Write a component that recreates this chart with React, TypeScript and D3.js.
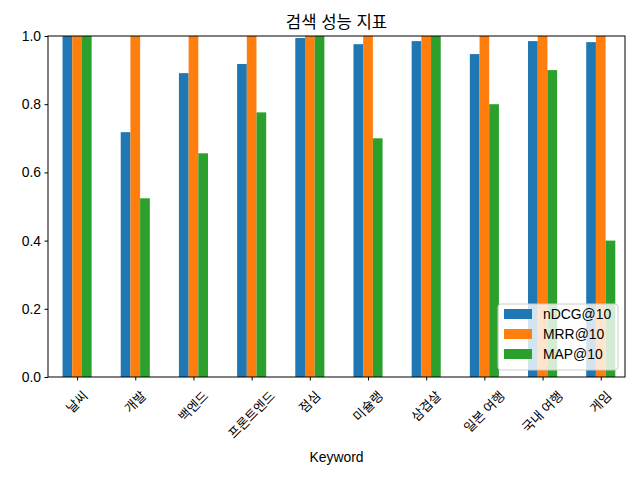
import React, { useEffect, useRef } from 'react';
import * as d3 from 'd3';

const keywords = ['날씨', '개발', '백엔드', '프론트엔드', '점심', '미슐랭', '삼겹살', '일본 여행', '국내 여행', '게임'];
const ndcg = [1.0, 0.718, 0.891, 0.918, 0.994, 0.976, 0.985, 0.947, 0.985, 0.982];
const mrr = [1.0, 1.0, 1.0, 1.0, 1.0, 1.0, 1.0, 1.0, 1.0, 1.0];
const map10 = [1.0, 0.524, 0.656, 0.776, 1.0, 0.7, 1.0, 0.8, 0.9, 0.4];
const seriesNames = ['nDCG@10', 'MRR@10', 'MAP@10'];
const yTicks = [0, 0.2, 0.4, 0.6, 0.8, 1.0];

const App: React.FC = () => {
  const svgRef = useRef<SVGSVGElement>(null);

  useEffect(() => {
    if (!svgRef.current) return;
    document.body.style.margin = '0';
    const svg = d3.select(svgRef.current);
    svg.selectAll('*').remove();

    const width = 640;
    const height = 480;
    const margin = { top: 36, right: 15, bottom: 103, left: 48 };
    const innerW = width - margin.left - margin.right;
    const innerH = height - margin.top - margin.bottom;
    const font = '"Liberation Sans", "Noto Sans CJK KR", sans-serif';
    const colors = ['#1f77b4', '#ff7f0e', '#2ca02c'];
    const series = [ndcg, mrr, map10];
    const barW = 0.5 / 3;

    svg.append('rect').attr('width', width).attr('height', height).attr('fill', '#fff');

    // pandas-style limits: ticks at group centres
    const x = d3.scaleLinear().domain([-0.5, keywords.length - 1 + 0.25 + barW]).range([0, innerW]);
    const y = d3.scaleLinear().domain([0, 1]).range([innerH, 0]);

    const g = svg.append('g').attr('transform', `translate(${margin.left},${margin.top})`);
    const plot = g.append('g');

    series.forEach((vals, s) => {
      plot.selectAll(`.bar${s}`)
        .data(vals)
        .enter()
        .append('rect')
        .attr('x', (_, i) => x(i - 0.25 + s * barW))
        .attr('width', x(barW) - x(0))
        .attr('y', d => y(d))
        .attr('height', d => innerH - y(d))
        .attr('fill', colors[s]);
    });

    // frame
    g.append('rect')
      .attr('width', innerW).attr('height', innerH)
      .attr('fill', 'none').attr('stroke', '#000').attr('stroke-width', 1);

    // y axis
    const yAxis = g.append('g')
      .call(d3.axisLeft(y).tickValues(yTicks).tickFormat(d3.format('.1f')).tickSize(3.5).tickPadding(3.5));
    yAxis.select('.domain').remove();
    yAxis.selectAll('text').style('font-size', '13.9px').style('font-family', font).attr('fill', '#000');

    // x axis
    const xAxis = g.append('g')
      .attr('transform', `translate(0,${innerH})`)
      .call(d3.axisBottom(x).tickValues(d3.range(keywords.length)).tickFormat(() => '').tickSize(3.5));
    xAxis.select('.domain').remove();

    keywords.forEach((k, i) => {
      const t = g.append('text')
        .attr('text-anchor', 'middle')
        .attr('dominant-baseline', 'central')
        .style('font-size', '13px')
        .style('font-family', font)
        .attr('fill', '#000')
        .text(k);
      const w = (t.node() as SVGTextElement).getComputedTextLength();
      const cy = innerH + 11 + (w + 16) / (2 * Math.SQRT2);
      t.attr('transform', `translate(${x(i)},${cy}) rotate(-45)`);
    });

    // x label
    svg.append('text')
      .attr('x', margin.left + innerW / 2)
      .attr('y', 462)
      .attr('text-anchor', 'middle')
      .style('font-size', '13.9px')
      .style('font-family', font)
      .attr('fill', '#000')
      .text('Keyword');

    // title
    svg.append('text')
      .attr('x', margin.left + innerW / 2)
      .attr('y', 28)
      .attr('text-anchor', 'middle')
      .style('font-size', '16.7px')
      .style('font-family', font)
      .attr('fill', '#000')
      .text('검색 성능 지표');

    // legend
    const lg = g.append('g').attr('transform', `translate(${innerW - 127},${innerH - 73})`);
    lg.append('rect')
      .attr('width', 120).attr('height', 66).attr('rx', 3)
      .attr('fill', '#fff').attr('fill-opacity', 0.8)
      .attr('stroke', '#ccc').attr('stroke-width', 1);
    seriesNames.forEach((name, i) => {
      const row = lg.append('g').attr('transform', `translate(6,${10 + i * 20})`);
      row.append('rect').attr('width', 28).attr('height', 10).attr('y', -5).attr('fill', colors[i]);
      row.append('text')
        .attr('x', 39)
        .attr('dominant-baseline', 'central')
        .style('font-size', '13.9px')
        .style('font-family', font)
        .attr('fill', '#000')
        .text(name);
    });
  }, []);

  return <svg ref={svgRef} width={640} height={480} style={{ display: 'block' }} />;
};

export default App;
